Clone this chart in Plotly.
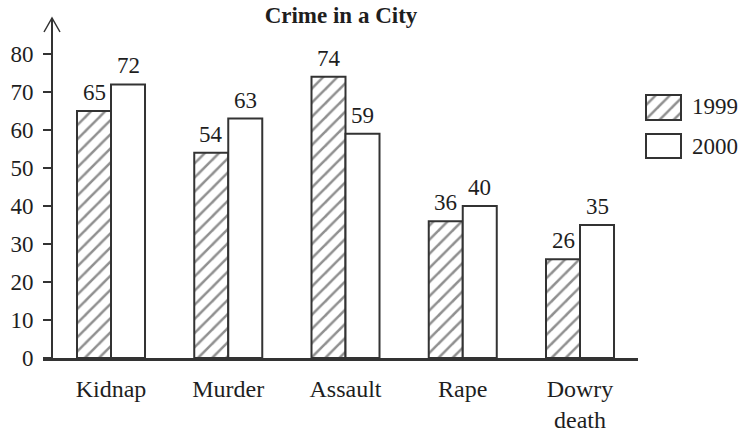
import plotly.graph_objects as go

categories = ["Kidnap", "Murder", "Assault", "Rape", "Dowry<br>death"]
values_1999 = [65, 54, 74, 36, 26]
values_2000 = [72, 63, 59, 40, 35]
y_ticks = [0, 10, 20, 30, 40, 50, 60, 70, 80]
series_names = ["1999", "2000"]
title_text = "Crime in a City"

W, H = 741, 439
ML, MT, MR, MB = 43, 18, 0, 81
PW = W - ML - MR
PH = H - MT - MB

FONT = "Liberation Serif"
INK = "#1e1e1e"
LINE = "#333333"
BARGAP = 0.42
HATCH = dict(shape="/", fgcolor="#222222", bgcolor="white", size=10, solidity=0.25)

xs = list(range(len(categories)))
x_range = [-0.58, -0.58 + (638 - ML) / 117.25]
main_dom = [0, (638 - ML) / PW]
yaxis_pos = (52 - ML) / PW
y_top = (358 - 18) / 3.8

fig = go.Figure()
fig.add_trace(go.Bar(
    x=xs, y=values_1999, name=series_names[0],
    marker=dict(color="white", line=dict(color=LINE, width=2), pattern=HATCH),
    hoverinfo="skip", showlegend=False))
fig.add_trace(go.Bar(
    x=xs, y=values_2000, name=series_names[1],
    marker=dict(color="white", line=dict(color=LINE, width=2)),
    hoverinfo="skip", showlegend=False))

# legend boxes drawn as bars on small overlay axes
def box_axes(idx, x0, x1, y0, y1, pad=2):
    dx = [(x0 - pad - ML) / PW, (x1 + pad - ML) / PW]
    dy = [(358 - y1 - pad) / PH, (358 - y0 + pad) / PH]
    hx = 0.5 * (x1 - x0 + 2 * pad) / (x1 - x0)
    ey = pad / (y1 - y0)
    fig.update_layout(**{
        f"xaxis{idx}": dict(domain=dx, range=[-hx, hx], visible=False, anchor=f"y{idx}"),
        f"yaxis{idx}": dict(domain=dy, range=[-ey, 1 + ey], visible=False, anchor=f"x{idx}"),
    })

box_axes(3, 646, 681, 95, 120)
box_axes(4, 646, 681, 134, 158)
fig.add_trace(go.Bar(
    x=[0], y=[1], width=[1], xaxis="x3", yaxis="y3", showlegend=False, hoverinfo="skip",
    marker=dict(color="white", line=dict(color=LINE, width=2), pattern=HATCH)))
fig.add_trace(go.Bar(
    x=[0], y=[1], width=[1], xaxis="x4", yaxis="y4", showlegend=False, hoverinfo="skip",
    marker=dict(color="white", line=dict(color=LINE, width=2))))

annotations = []
off = (1 - BARGAP) / 4
for i, (a, b) in enumerate(zip(values_1999, values_2000)):
    for xv, v in ((i - off, a), (i + off, b)):
        annotations.append(dict(x=xv, y=v, xref="x", yref="y", text=str(v), showarrow=False,
                                yanchor="bottom", yshift=4,
                                font=dict(family=FONT, size=23, color=INK)))
for name, yc in zip(series_names, [107, 146]):
    annotations.append(dict(x=(690 - ML) / PW, y=(358 - yc) / PH, xref="paper", yref="paper",
                            text=name, showarrow=False, xanchor="left", yanchor="middle",
                            font=dict(family=FONT, size=23, color=INK)))

fig.update_layout(
    width=W, height=H,
    margin=dict(l=ML, r=MR, t=MT, b=MB, pad=0, autoexpand=False),
    paper_bgcolor="white", plot_bgcolor="rgba(0,0,0,0)",
    barmode="group", bargap=BARGAP, bargroupgap=0,
    title=dict(text="<b>" + title_text + "</b>", x=341 / W, xanchor="center",
               y=1 - 15 / H, yanchor="middle", xref="container", yref="container",
               font=dict(family=FONT, size=23, color=INK)),
    xaxis=dict(domain=main_dom, range=x_range, tickvals=xs, ticktext=categories,
               showline=True, linecolor=LINE, linewidth=2.5, ticks="", showgrid=False,
               zeroline=False, tickfont=dict(family=FONT, size=24, color=INK),
               ticklabelstandoff=7, anchor="y"),
    yaxis=dict(range=[0, y_top], tickvals=y_ticks, anchor="free", position=yaxis_pos,
               showline=True, linecolor=LINE, linewidth=2, ticks="outside", ticklen=8,
               tickwidth=2, tickcolor=LINE, showgrid=False, zeroline=False,
               tickfont=dict(family=FONT, size=23, color=INK), ticklabelstandoff=5),
    yaxis2=dict(range=[0, y_top], tickvals=y_ticks[1:], overlaying="y", anchor="free",
                position=yaxis_pos, side="left", showline=False, ticks="inside", ticklen=8,
                tickwidth=2, tickcolor=LINE, showticklabels=False, showgrid=False,
                zeroline=False),
    annotations=annotations,
    shapes=[dict(type="path", xref="paper", yref="paper", xsizemode="pixel", ysizemode="pixel",
                 xanchor=yaxis_pos, yanchor=1, path="M-8,-14 L0,0 L8,-14",
                 line=dict(color=LINE, width=1.5))],
)

fig.write_html("out.html", config={"displayModeBar": False},
               post_script="document.body.style.margin='0';document.body.style.overflow='hidden';")
